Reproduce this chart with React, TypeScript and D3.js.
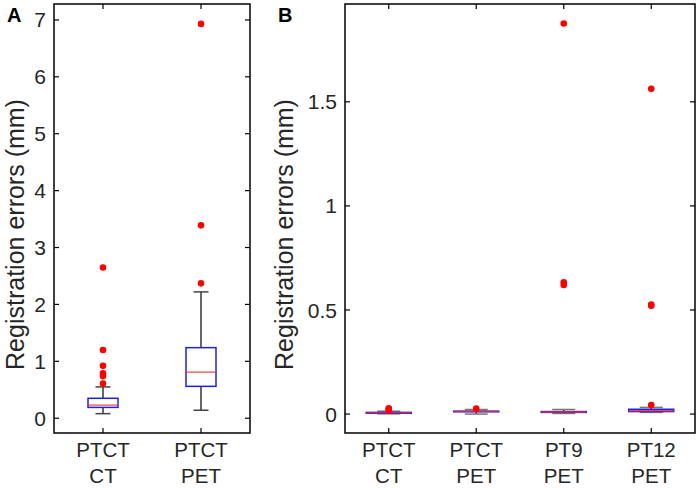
import React from "react";
import * as d3 from "d3";

// Panel A
const catsA = [["PTCT", "CT"], ["PTCT", "PET"]];
const statsA = [
  { lo: 0.08, q1: 0.19, med: 0.23, q3: 0.35, hi: 0.55 },
  { lo: 0.14, q1: 0.56, med: 0.81, q3: 1.24, hi: 2.22 },
];
const outliersA = [
  [0.61, 0.74, 0.79, 0.92, 1.2, 2.65],
  [2.37, 3.39, 6.93],
];
const ticksA = [0, 1, 2, 3, 4, 5, 6, 7];

// Panel B
const catsB = [["PTCT", "CT"], ["PTCT", "PET"], ["PT9", "PET"], ["PT12", "PET"]];
const statsB = [
  { lo: 0.001, q1: 0.004, med: 0.006, q3: 0.008, hi: 0.014 },
  { lo: 0.0, q1: 0.011, med: 0.012, q3: 0.014, hi: 0.022 },
  { lo: 0.003, q1: 0.008, med: 0.01, q3: 0.012, hi: 0.022 },
  { lo: 0.008, q1: 0.012, med: 0.016, q3: 0.023, hi: 0.032 },
];
const outliersB = [
  [0.018, 0.024, 0.028],
  [0.026],
  [0.62, 0.633, 1.876],
  [0.043, 0.52, 0.526, 1.563],
];
const ticksB = [0, 0.5, 1, 1.5];

const FONT = "'Liberation Sans', Arial, sans-serif";

type Stat = { lo: number; q1: number; med: number; q3: number; hi: number };

function Panel(props: {
  left: number; right: number; top: number; bottom: number;
  domain: [number, number]; cats: string[][]; stats: Stat[]; outliers: number[][];
  ticks: number[]; boxW: number; capW: number; capColor: string; letter: string;
  letterX: number; labelX: number;
}) {
  const { left, right, top, bottom, domain, cats, stats, outliers, ticks, boxW, capW, capColor, letter, letterX, labelX } = props;
  const n = cats.length;
  const x = d3.scaleLinear().domain([0.5, n + 0.5]).range([left, right]);
  const y = d3.scaleLinear().domain(domain).range([bottom, top]);
  const tl = 5;
  return (
    <g>
      {stats.map((s, i) => {
        const cx = x(i + 1);
        return (
          <g key={i}>
            <line x1={cx} x2={cx} y1={y(s.q3)} y2={y(s.hi)} stroke="#000" strokeWidth={1.2} />
            <line x1={cx} x2={cx} y1={y(s.q1)} y2={y(s.lo)} stroke="#000" strokeWidth={1.2} />
            <line x1={cx - capW / 2} x2={cx + capW / 2} y1={y(s.hi)} y2={y(s.hi)} stroke={capColor} strokeWidth={1.5} />
            <line x1={cx - capW / 2} x2={cx + capW / 2} y1={y(s.lo)} y2={y(s.lo)} stroke={capColor} strokeWidth={1.5} />
            <rect x={cx - boxW / 2} y={y(s.q3)} width={boxW} height={Math.max(0, y(s.q1) - y(s.q3))} fill="none" stroke="#2020e0" strokeWidth={1.5} />
            <line x1={cx - boxW / 2} x2={cx + boxW / 2} y1={y(s.med)} y2={y(s.med)} stroke="#f03030" strokeWidth={1.3} opacity={0.85} />
            {outliers[i].map((v, j) => (
              <circle key={j} cx={cx} cy={y(v)} r={3.3} fill="#ff0000" />
            ))}
          </g>
        );
      })}
      <rect x={left} y={top} width={right - left} height={bottom - top} fill="none" stroke="#000" strokeWidth={1.5} />
      {ticks.map((t) => (
        <g key={t}>
          <line x1={left} x2={left + tl} y1={y(t)} y2={y(t)} stroke="#000" strokeWidth={1.2} />
          <line x1={right} x2={right - tl} y1={y(t)} y2={y(t)} stroke="#000" strokeWidth={1.2} />
          <text x={left - 8} y={y(t)} dy="0.36em" textAnchor="end" fontFamily={FONT} fontSize={21} fill="#262626">{String(t)}</text>
        </g>
      ))}
      {cats.map((c, i) => (
        <g key={i}>
          <line x1={x(i + 1)} x2={x(i + 1)} y1={bottom} y2={bottom - tl} stroke="#000" strokeWidth={1.2} />
          <line x1={x(i + 1)} x2={x(i + 1)} y1={top} y2={top + tl} stroke="#000" strokeWidth={1.2} />
          <text x={x(i + 1)} y={457} textAnchor="middle" fontFamily={FONT} fontSize={20.5} fill="#262626">{c[0]}</text>
          <text x={x(i + 1)} y={483} textAnchor="middle" fontFamily={FONT} fontSize={20.5} fill="#262626">{c[1]}</text>
        </g>
      ))}
      <text transform={`translate(${labelX},${(top + bottom) / 2 + 16}) rotate(-90)`} textAnchor="middle" dy="0.35em" fontFamily={FONT} fontSize={25} fill="#262626">Registration errors (mm)</text>
      <text x={letterX} y={22} fontFamily={FONT} fontWeight="bold" fontSize={20} fill="#000">{letter}</text>
    </g>
  );
}

export default function App() {
  return (
    <svg width={700} height={489} style={{ position: "absolute", left: 0, top: 0, background: "#fff" }}>
      <rect width={700} height={489} fill="#fff" />
      <Panel left={54} right={250} top={4} bottom={433} domain={[-0.26, 7.28]} cats={catsA} stats={statsA}
        outliers={outliersA} ticks={ticksA} boxW={30} capW={15} capColor="#444" letter="A" letterX={7} labelX={15} />
      <Panel left={345} right={695} top={4} bottom={433} domain={[-0.091, 1.97]} cats={catsB} stats={statsB}
        outliers={outliersB} ticks={ticksB} boxW={45} capW={23} capColor="#777" letter="B" letterX={278} labelX={284} />
    </svg>
  );
}
